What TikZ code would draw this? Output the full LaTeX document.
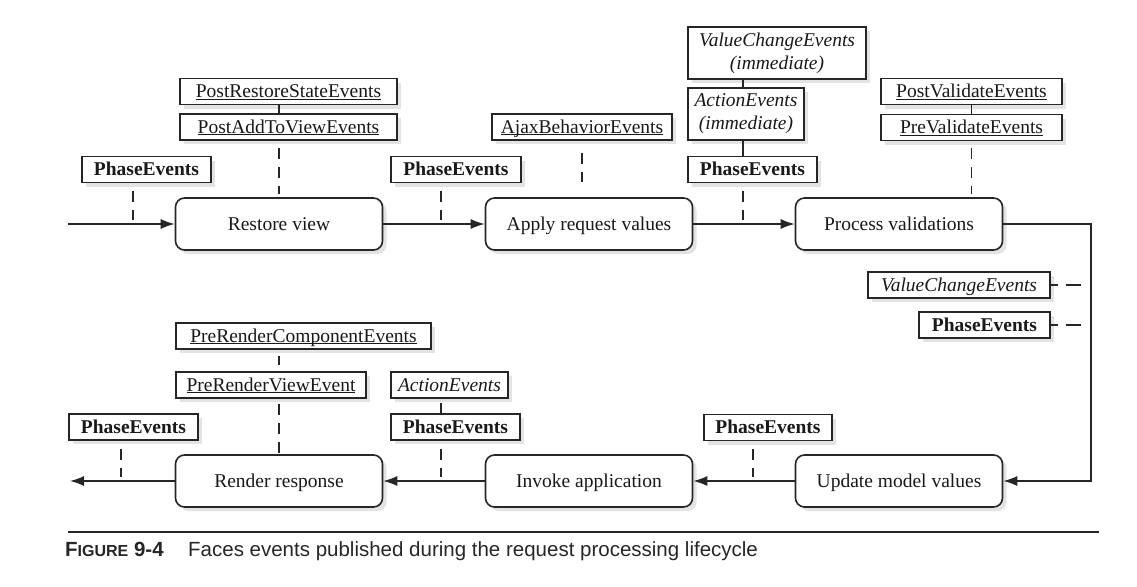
\documentclass[tikz,border=0pt]{standalone}
\usepackage{fontspec}
\setmainfont{Liberation Serif}
\setsansfont{Liberation Sans}
\usetikzlibrary{positioning, arrows.meta, shadows}
\newcommand{\ulname}[1]{\underline{\smash{#1}}}

\begin{document}
\begin{tikzpicture}[x=1pt, y=-1pt]
    \tikzstyle{phase}=[draw=black!85, line width=1.6pt, rounded corners=9pt, fill=white, text=black!90, minimum width=207pt, minimum height=52pt, text height=15pt, text depth=3pt, font=\fontsize{19.5}{23}\selectfont, drop shadow={shadow xshift=4pt, shadow yshift=-4pt, fill=black!22}]
    \tikzstyle{evtwo}=[draw=black!85, line width=1.4pt, fill=white, text=black!90, minimum height=52pt, inner xsep=4pt, inner ysep=2pt, align=center, font=\fontsize{19.5}{23}\selectfont, drop shadow={shadow xshift=4pt, shadow yshift=-4pt, fill=black!22}]
    \tikzstyle{evt}=[evtwo, minimum height=26pt, text height=15pt, text depth=2.5pt]
    \tikzstyle{tick}=[black!85, line width=1.3pt, dash pattern=on 11pt off 8pt]
    \tikzstyle{link}=[black!85, line width=1.3pt]
    \tikzstyle{flow}=[black!85, line width=1.4pt, -{Latex[length=14pt, width=10pt]}]
    \tikzset{node distance=310pt, auto}
    \useasboundingbox (0,0) rectangle (1137,586);

    \node[phase] (q1) at (279,224) {Restore view};
    \node[phase, right of=q1] (q2) {Apply request values};
    \node[phase, right of=q2] (q3) {Process validations};
    \node[phase, below of=q3, node distance=257pt] (q4) {Update model values};
    \node[phase, left of=q4] (q5) {Invoke application};
    \node[phase, left of=q5] (q6) {Render response};

    \node[evt, minimum width=129pt] (e1) at (146.5,169.5) {\textbf{PhaseEvents}};
    \node[evt, minimum width=217pt] (e2) at (288.5,91.5) {\ulname{PostRestoreStateEvents}};
    \node[evt, minimum width=217pt] (e3) at (288.5,127) {\ulname{PostAddToViewEvents}};
    \node[evt, minimum width=130pt] (e4) at (456,169.5) {\textbf{PhaseEvents}};
    \node[evt, minimum width=180pt] (e5) at (582,127) {\ulname{AjaxBehaviorEvents}};
    \node[evtwo, minimum width=178pt] (e6) at (777,53) {\textit{ValueChangeEvents}\\\textit{(immediate)}};
    \node[evtwo, minimum width=116pt] (e7) at (746,114) {\textit{ActionEvents}\\\textit{(immediate)}};
    \node[evt, minimum width=129pt] (e8) at (752.5,169.5) {\textbf{PhaseEvents}};
    \node[evt, minimum width=181pt] (e9) at (971.5,91.5) {\ulname{PostValidateEvents}};
    \node[evt, minimum width=181pt] (e10) at (971.5,127.5) {\ulname{PreValidateEvents}};
    \node[evt, minimum width=182pt] (e11) at (959,285) {\textit{ValueChangeEvents}};
    \node[evt, minimum width=131pt] (e12) at (984.5,325) {\textbf{PhaseEvents}};
    \node[evt, minimum width=255pt] (e13) at (303.5,336) {\ulname{PreRenderComponentEvents}};
    \node[evt, minimum width=190pt] (e14) at (271,385) {\ulname{PreRenderViewEvent}};
    \node[evt, minimum width=129pt] (e15) at (133.5,427) {\textbf{PhaseEvents}};
    \node[evt, minimum width=117pt] (e16) at (449.5,385) {\textit{ActionEvents}};
    \node[evt, minimum width=129pt] (e17) at (455.5,427) {\textbf{PhaseEvents}};
    \node[evt, minimum width=128pt] (e18) at (768,427.5) {\textbf{PhaseEvents}};

    \coordinate (in) at (68,224);
    \coordinate (out) at (70,481);
    \coordinate (rt) at (1091,224);
    \coordinate (t1) at (133,220);
    \coordinate (t2) at (441,220);
    \coordinate (t3) at (743,220);
    \coordinate (t4) at (121,477);
    \coordinate (t5) at (441,477);
    \coordinate (t6) at (753,477);

    \draw[flow] (in) -- (q1);
    \draw[flow] (q1) -- (q2);
    \draw[flow] (q2) -- (q3);
    \draw[flow] (q3) -- (rt) |- (q4);
    \draw[flow] (q4) -- (q5);
    \draw[flow] (q5) -- (q6);
    \draw[flow] (q6) -- (out);

    \draw[tick, shorten <=8pt] (e1.south -| t1) -- (t1);
    \draw[link] (e2.south -| q1.north) -- (e3.north -| q1.north);
    \draw[tick, shorten <=7pt, shorten >=3pt] (e3.south -| q1.north) -- (q1.north);
    \draw[tick, shorten <=8pt] (e4.south -| t2) -- (t2);
    \draw[tick, shorten <=12pt, shorten >=15pt] (e5.south) -- (e5.south |- q2.north);
    \draw[link] (e6.south -| t3) -- (e7.north -| t3);
    \draw[link] (e7.south -| t3) -- (e8.north -| t3);
    \draw[tick, shorten <=8pt] (e8.south -| t3) -- (t3);
    \draw[link] (e9.south) -- (e10.north);
    \draw[tick, shorten <=7pt, shorten >=3pt] (e10.south) -- (e10.south |- q3.north);
    \draw[link, dash pattern=on 7pt off 8pt on 15pt off 50pt] (e11.east) -- (e11.east -| rt);
    \draw[link, dash pattern=on 7pt off 8pt on 15pt off 50pt] (e12.east) -- (e12.east -| rt);
    \draw[tick, shorten <=6pt, shorten >=6pt] (e13.south -| q6.north) -- (e14.north -| q6.north);
    \draw[tick, shorten <=5pt] (e14.south -| q6.north) -- (q6.north);
    \draw[tick, shorten <=4pt] (e16.south -| t5) -- (e17.north -| t5);
    \draw[tick, shorten <=8pt] (e15.south -| t4) -- (t4);
    \draw[tick, shorten <=8pt] (e17.south -| t5) -- (t5);
    \draw[tick, shorten <=8pt] (e18.south -| t6) -- (t6);

    \draw[black!85, line width=2.4pt] (68,532) -- (1099,532);
    \node[anchor=base west, inner sep=0pt, text=black!85, font=\sffamily\bfseries\fontsize{20.5}{22}\selectfont] (fig) at (65,556) {F{\fontsize{16}{18}\selectfont IGURE} 9-4};
    \node[anchor=base west, inner sep=0pt, text=black!85, font=\sffamily\fontsize{20.5}{22}\selectfont] (cap) at (188,556) {Faces events published during the request processing lifecycle};
\end{tikzpicture}
\end{document}
